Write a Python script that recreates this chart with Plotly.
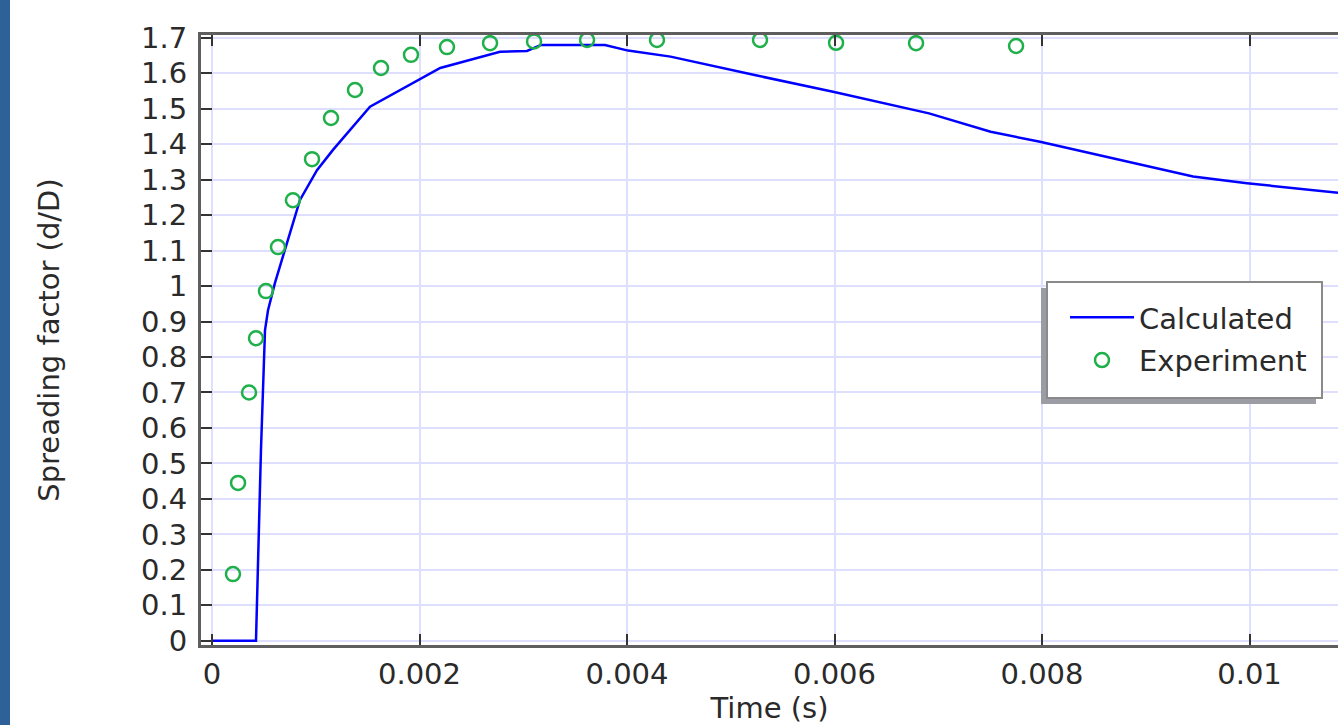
import plotly.graph_objects as go

# ---- data ----
calc_t = [0.0, 0.000424, 0.000472, 0.000511, 0.00054, 0.000607, 0.000723, 0.000848,
          0.001012, 0.001166, 0.001523, 0.0022, 0.002776, 0.003036, 0.003171, 0.003788,
          0.00401, 0.00442, 0.00523, 0.005986, 0.006911, 0.007505, 0.007981, 0.009456,
          0.009976, 0.010854]
calc_v = [0.0, 0.0, 0.538, 0.876, 0.932, 1.009, 1.122, 1.243,
          1.327, 1.384, 1.506, 1.615, 1.661, 1.663, 1.680, 1.680,
          1.664, 1.647, 1.595, 1.548, 1.487, 1.435, 1.407, 1.309,
          1.290, 1.263]

exp_t = [0.000202, 0.000251, 0.000357, 0.000424, 0.00052, 0.000636, 0.00078, 0.000964,
         0.001147, 0.001378, 0.001629, 0.001918, 0.002265, 0.00268, 0.003104, 0.003615,
         0.004289, 0.005282, 0.006015, 0.006786, 0.00775]
exp_v = [0.188, 0.445, 0.70, 0.853, 0.986, 1.11, 1.242, 1.358,
         1.474, 1.553, 1.615, 1.652, 1.674, 1.685, 1.69, 1.694,
         1.694, 1.694, 1.686, 1.685, 1.677]

x_ticks = [0, 0.002, 0.004, 0.006, 0.008, 0.01]
x_ticklabels = ["0", "0.002", "0.004", "0.006", "0.008", "0.01"]
y_ticks = [0, 0.1, 0.2, 0.3, 0.4, 0.5, 0.6, 0.7, 0.8, 0.9, 1.0,
           1.1, 1.2, 1.3, 1.4, 1.5, 1.6, 1.7]
y_ticklabels = ["0", "0.1", "0.2", "0.3", "0.4", "0.5", "0.6", "0.7", "0.8", "0.9", "1",
                "1.1", "1.2", "1.3", "1.4", "1.5", "1.6", "1.7"]

# ---- layout constants ----
W, H = 1338, 725
ML, MR, MT, MB = 201, 0, 35, 80
PW, PH = W - ML - MR, H - MT - MB
FONT = "DejaVu Sans"
FS = 29
AXIS_COL = "#5e5e5e"
GRID_COL = "#dedeff"


def px2paper_x(px):
    return (px - ML) / PW


def px2paper_y(py):
    return (H - MB - py) / PH


fig = go.Figure()
fig.add_trace(go.Scatter(x=calc_t, y=calc_v, mode="lines", name="Calculated",
                         legendgroup="a",
                         line=dict(color="#0000ff", width=2.5)))
fig.add_trace(go.Scatter(x=exp_t, y=exp_v, mode="markers", name="Experiment",
                         legendgroup="b",
                         marker=dict(symbol="circle-open", size=14, color="#1fb04a",
                                     line=dict(width=2.5, color="#1fb04a"))))

shapes = [
    # blue strip at left edge
    dict(type="rect", xref="paper", yref="paper",
         x0=px2paper_x(0), x1=px2paper_x(10), y0=px2paper_y(H), y1=px2paper_y(0),
         fillcolor="#2e6197", line=dict(width=0), layer="below"),
    # legend shadow
    dict(type="rect", xref="paper", yref="paper",
         x0=px2paper_x(1041), x1=px2paper_x(1316), y0=px2paper_y(404), y1=px2paper_y(288),
         fillcolor="#9c9ca4", line=dict(width=0), layer="above"),
    # legend box
    dict(type="rect", xref="paper", yref="paper",
         x0=px2paper_x(1047), x1=px2paper_x(1322), y0=px2paper_y(398), y1=px2paper_y(282),
         fillcolor="white", line=dict(width=2, color="#8a8a8a"), layer="above"),
]

fig.update_layout(
    width=W, height=H,
    margin=dict(l=ML, r=MR, t=MT, b=MB, pad=0),
    paper_bgcolor="white", plot_bgcolor="white",
    font=dict(family=FONT, size=FS, color="#2a2a2a"),
    showlegend=True,
    legend=dict(x=px2paper_x(1047), y=px2paper_y(292), xanchor="left", yanchor="top",
                bgcolor="rgba(0,0,0,0)", borderwidth=0,
                font=dict(family=FONT, size=FS, color="#2a2a2a"),
                itemwidth=64, indentation=18, tracegroupgap=2, itemclick=False),
    shapes=shapes,
    xaxis=dict(range=[-0.000106, 0.010853], tickvals=x_ticks, ticktext=x_ticklabels,
               showgrid=True, gridcolor=GRID_COL, gridwidth=2, zeroline=False,
               showline=True, linecolor=AXIS_COL, linewidth=3, mirror="ticks",
               ticks="inside", ticklen=11, tickwidth=2, tickcolor="#333333",
               ticklabelstandoff=1,
               title=dict(text="Time (s)", standoff=5, font=dict(size=FS))),
    yaxis=dict(range=[-0.012, 1.708], tickvals=y_ticks, ticktext=y_ticklabels,
               showgrid=True, gridcolor=GRID_COL, gridwidth=2, zeroline=False,
               showline=True, linecolor=AXIS_COL, linewidth=3,
               ticks="inside", ticklen=11, tickwidth=2, tickcolor="#333333",
               ticklabelstandoff=5,
               title=dict(text="Spreading factor (d/D)", standoff=73, font=dict(size=FS))),
    yaxis2=dict(overlaying="y", side="right", range=[-0.012, 1.708], tickvals=y_ticks,
                showticklabels=False, showgrid=False, zeroline=False, showline=False,
                ticks="inside", ticklen=8, tickwidth=2, tickcolor="#333333"),
)

fig.write_html("out.html", config={"displayModeBar": False},
               post_script="document.body.style.margin='0px';")
